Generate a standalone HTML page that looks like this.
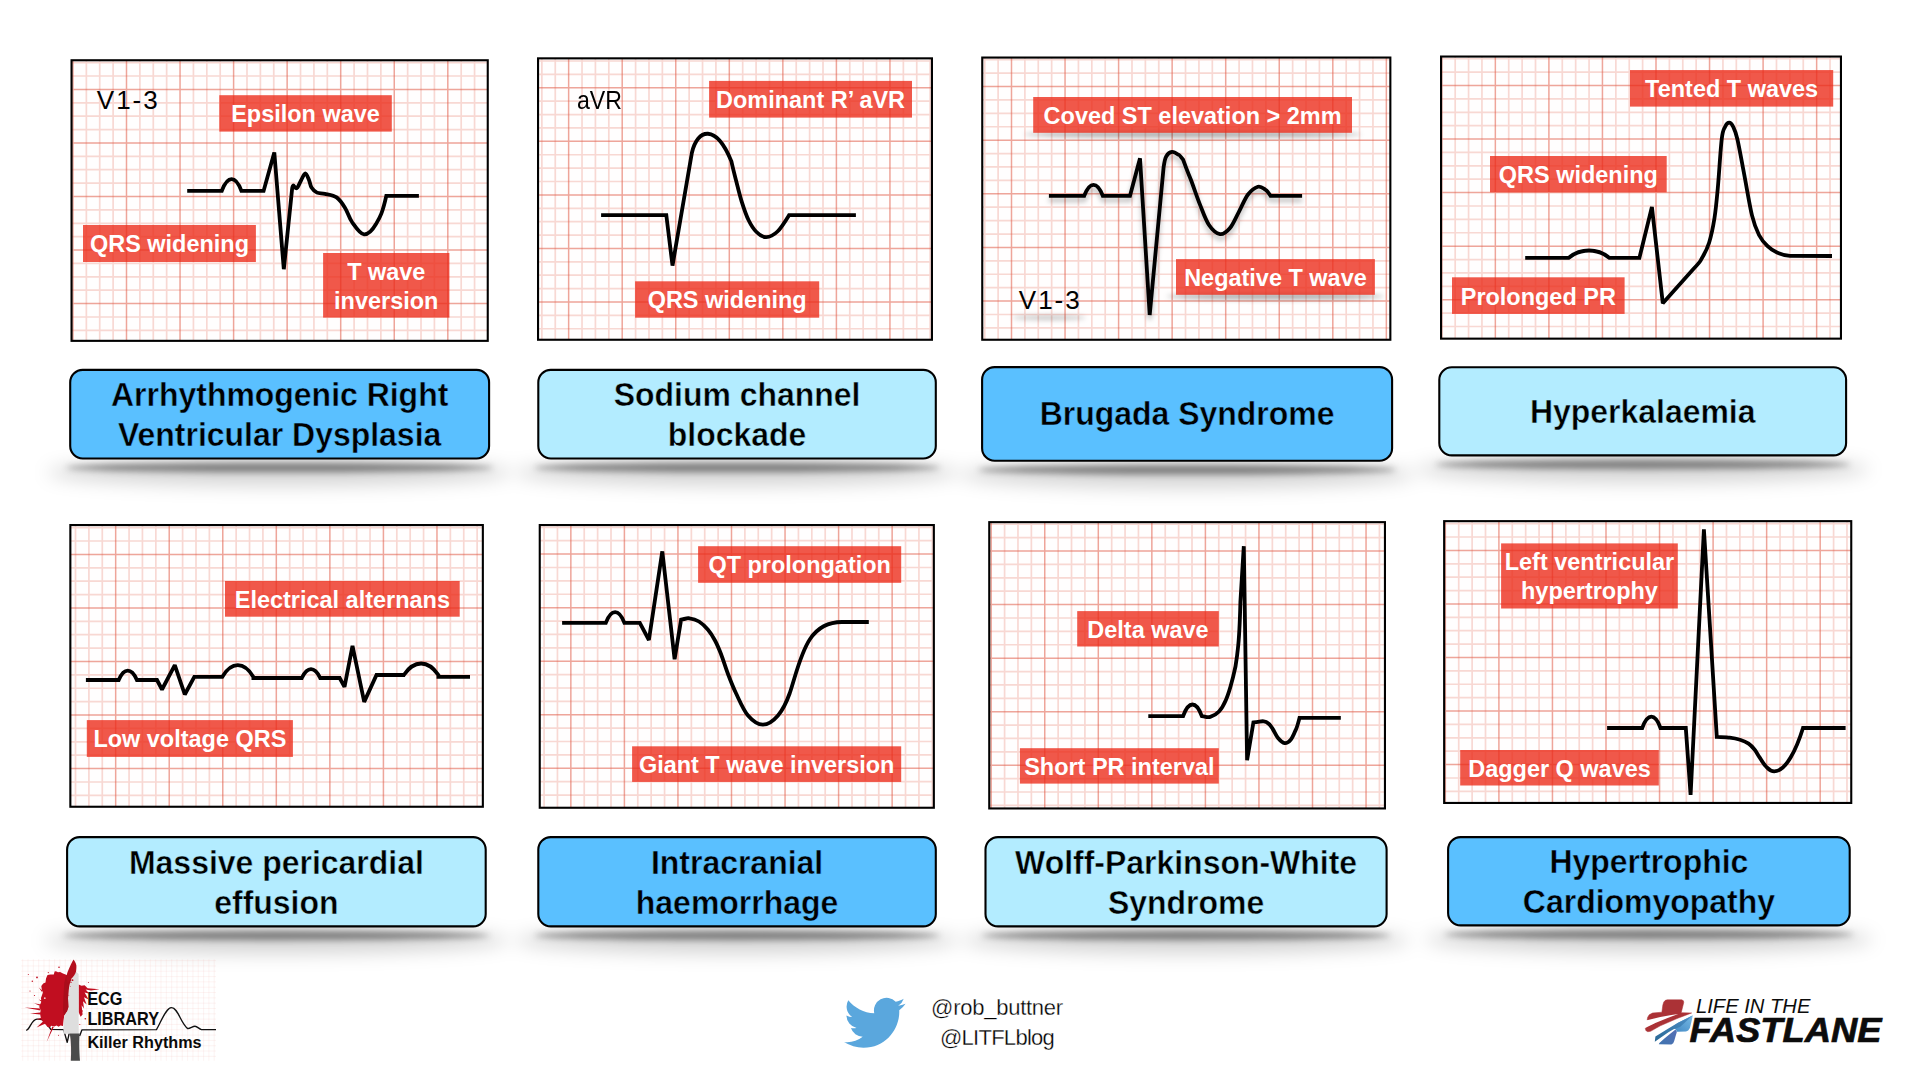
<!DOCTYPE html>
<html><head><meta charset="utf-8"><title>ECG Killer Rhythms</title>
<style>
html,body{margin:0;padding:0;}
body{width:1915px;height:1076px;position:relative;overflow:hidden;background:#fff;font-family:"Liberation Sans",sans-serif;}
#art{position:absolute;left:0;top:0;}
.ld{position:absolute;font-size:26px;line-height:26px;color:#000;white-space:nowrap;transform-origin:0 0;}
.ft{position:absolute;color:#000;font-size:21.3px;line-height:29.3px;text-align:center;white-space:nowrap;}
</style></head><body>

<svg id="art" width="1915" height="1076" viewBox="0 0 1915 1076">
<defs>
<clipPath id="c0"><rect x="71.5" y="60.2" width="416.3" height="280.7"/></clipPath>
<clipPath id="c1"><rect x="538" y="58.3" width="394" height="281.5"/></clipPath>
<clipPath id="c2"><rect x="982.2" y="57.5" width="408.2" height="282.3"/></clipPath>
<clipPath id="c3"><rect x="1441" y="56.5" width="400" height="282.2"/></clipPath>
<clipPath id="c4"><rect x="70.3" y="525" width="412.6" height="281.8"/></clipPath>
<clipPath id="c5"><rect x="539.7" y="525" width="394.2" height="282.8"/></clipPath>
<clipPath id="c6"><rect x="989.2" y="522.1" width="395.8" height="286.4"/></clipPath>
<clipPath id="c7"><rect x="1444.1" y="521.1" width="407.2" height="281.9"/></clipPath>
</defs>
<g clip-path="url(#c0)">
<rect x="70.5" y="59.2" width="418.3" height="282.7" fill="#fffefe"/>
<path d="M86.34,59.2V341.9M99.72,59.2V341.9M113.11,59.2V341.9M139.89,59.2V341.9M153.28,59.2V341.9M166.66,59.2V341.9M193.44,59.2V341.9M206.82,59.2V341.9M220.21,59.2V341.9M246.99,59.2V341.9M260.38,59.2V341.9M273.76,59.2V341.9M300.54,59.2V341.9M313.92,59.2V341.9M327.31,59.2V341.9M354.09,59.2V341.9M367.48,59.2V341.9M380.86,59.2V341.9M407.64,59.2V341.9M421.02,59.2V341.9M434.41,59.2V341.9M461.19,59.2V341.9M474.57,59.2V341.9M487.96,59.2V341.9M70.5,62.63H488.8M70.5,76.01H488.8M70.5,102.79H488.8M70.5,116.18H488.8M70.5,129.56H488.8M70.5,156.34H488.8M70.5,169.72H488.8M70.5,183.11H488.8M70.5,209.89H488.8M70.5,223.28H488.8M70.5,236.66H488.8M70.5,263.44H488.8M70.5,276.82H488.8M70.5,290.21H488.8M70.5,316.99H488.8M70.5,330.38H488.8" stroke="rgba(228,105,85,0.25)" stroke-width="1.7" fill="none"/>
<path d="M72.95,59.2V341.9M126.5,59.2V341.9M180.05,59.2V341.9M233.6,59.2V341.9M287.15,59.2V341.9M340.7,59.2V341.9M394.25,59.2V341.9M447.8,59.2V341.9M70.5,89.4H488.8M70.5,142.95H488.8M70.5,196.5H488.8M70.5,250.05H488.8M70.5,303.6H488.8" stroke="rgba(225,95,75,0.56)" stroke-width="1.5" fill="none"/>
</g>
<rect x="71.55" y="60.25" width="416.2" height="280.6" fill="none" stroke="#000" stroke-width="2.1"/>
<g clip-path="url(#c1)">
<rect x="537" y="57.3" width="396" height="283.5" fill="#fffefe"/>
<path d="M541.88,57.3V340.8M555.26,57.3V340.8M582.04,57.3V340.8M595.43,57.3V340.8M608.81,57.3V340.8M635.59,57.3V340.8M648.98,57.3V340.8M662.36,57.3V340.8M689.14,57.3V340.8M702.53,57.3V340.8M715.91,57.3V340.8M742.69,57.3V340.8M756.08,57.3V340.8M769.46,57.3V340.8M796.24,57.3V340.8M809.62,57.3V340.8M823.01,57.3V340.8M849.79,57.3V340.8M863.18,57.3V340.8M876.56,57.3V340.8M903.34,57.3V340.8M916.73,57.3V340.8M930.11,57.3V340.8M537,61.02H933M537,74.41H933M537,101.19H933M537,114.57H933M537,127.96H933M537,154.74H933M537,168.12H933M537,181.51H933M537,208.29H933M537,221.68H933M537,235.06H933M537,261.84H933M537,275.22H933M537,288.61H933M537,315.39H933M537,328.77H933" stroke="rgba(228,105,85,0.25)" stroke-width="1.7" fill="none"/>
<path d="M568.65,57.3V340.8M622.2,57.3V340.8M675.75,57.3V340.8M729.3,57.3V340.8M782.85,57.3V340.8M836.4,57.3V340.8M889.95,57.3V340.8M537,87.8H933M537,141.35H933M537,194.9H933M537,248.45H933M537,302H933" stroke="rgba(225,95,75,0.56)" stroke-width="1.5" fill="none"/>
</g>
<rect x="538.05" y="58.35" width="393.9" height="281.4" fill="none" stroke="#000" stroke-width="2.1"/>
<g clip-path="url(#c2)">
<rect x="981.2" y="56.5" width="410.2" height="284.3" fill="#fffefe"/>
<path d="M984.72,56.5V340.8M998.11,56.5V340.8M1024.89,56.5V340.8M1038.27,56.5V340.8M1051.66,56.5V340.8M1078.44,56.5V340.8M1091.82,56.5V340.8M1105.21,56.5V340.8M1131.99,56.5V340.8M1145.38,56.5V340.8M1158.76,56.5V340.8M1185.54,56.5V340.8M1198.92,56.5V340.8M1212.31,56.5V340.8M1239.09,56.5V340.8M1252.47,56.5V340.8M1265.86,56.5V340.8M1292.64,56.5V340.8M1306.02,56.5V340.8M1319.41,56.5V340.8M1346.19,56.5V340.8M1359.57,56.5V340.8M1372.96,56.5V340.8M981.2,59.67H1391.4M981.2,73.09H1391.4M981.2,99.91H1391.4M981.2,113.33H1391.4M981.2,126.74H1391.4M981.2,153.56H1391.4M981.2,166.97H1391.4M981.2,180.39H1391.4M981.2,207.21H1391.4M981.2,220.62H1391.4M981.2,234.04H1391.4M981.2,260.86H1391.4M981.2,274.27H1391.4M981.2,287.69H1391.4M981.2,314.51H1391.4M981.2,327.92H1391.4" stroke="rgba(228,105,85,0.25)" stroke-width="1.7" fill="none"/>
<path d="M1011.5,56.5V340.8M1065.05,56.5V340.8M1118.6,56.5V340.8M1172.15,56.5V340.8M1225.7,56.5V340.8M1279.25,56.5V340.8M1332.8,56.5V340.8M1386.35,56.5V340.8M981.2,86.5H1391.4M981.2,140.15H1391.4M981.2,193.8H1391.4M981.2,247.45H1391.4M981.2,301.1H1391.4" stroke="rgba(225,95,75,0.56)" stroke-width="1.5" fill="none"/>
</g>
<rect x="982.25" y="57.55" width="408.1" height="282.2" fill="none" stroke="#000" stroke-width="2.1"/>
<g clip-path="url(#c3)">
<rect x="1440" y="55.5" width="402" height="284.2" fill="#fffefe"/>
<path d="M1455.19,55.5V339.7M1468.58,55.5V339.7M1481.96,55.5V339.7M1508.74,55.5V339.7M1522.12,55.5V339.7M1535.51,55.5V339.7M1562.29,55.5V339.7M1575.68,55.5V339.7M1589.06,55.5V339.7M1615.84,55.5V339.7M1629.23,55.5V339.7M1642.61,55.5V339.7M1669.39,55.5V339.7M1682.78,55.5V339.7M1696.16,55.5V339.7M1722.94,55.5V339.7M1736.33,55.5V339.7M1749.71,55.5V339.7M1776.49,55.5V339.7M1789.88,55.5V339.7M1803.26,55.5V339.7M1830.04,55.5V339.7M1440,58.73H1842M1440,72.11H1842M1440,98.89H1842M1440,112.28H1842M1440,125.66H1842M1440,152.44H1842M1440,165.82H1842M1440,179.21H1842M1440,205.99H1842M1440,219.38H1842M1440,232.76H1842M1440,259.54H1842M1440,272.92H1842M1440,286.31H1842M1440,313.09H1842M1440,326.48H1842" stroke="rgba(228,105,85,0.25)" stroke-width="1.7" fill="none"/>
<path d="M1441.8,55.5V339.7M1495.35,55.5V339.7M1548.9,55.5V339.7M1602.45,55.5V339.7M1656,55.5V339.7M1709.55,55.5V339.7M1763.1,55.5V339.7M1816.65,55.5V339.7M1440,85.5H1842M1440,139.05H1842M1440,192.6H1842M1440,246.15H1842M1440,299.7H1842" stroke="rgba(225,95,75,0.56)" stroke-width="1.5" fill="none"/>
</g>
<rect x="1441.05" y="56.55" width="399.9" height="282.1" fill="none" stroke="#000" stroke-width="2.1"/>
<g clip-path="url(#c4)">
<rect x="69.3" y="524" width="414.6" height="283.8" fill="#fffefe"/>
<path d="M75.51,524V807.8M88.9,524V807.8M102.28,524V807.8M129.06,524V807.8M142.44,524V807.8M155.83,524V807.8M182.61,524V807.8M196,524V807.8M209.38,524V807.8M236.16,524V807.8M249.55,524V807.8M262.93,524V807.8M289.71,524V807.8M303.09,524V807.8M316.48,524V807.8M343.26,524V807.8M356.64,524V807.8M370.03,524V807.8M396.81,524V807.8M410.19,524V807.8M423.58,524V807.8M450.36,524V807.8M463.75,524V807.8M477.13,524V807.8M69.3,527.62H483.9M69.3,541.01H483.9M69.3,567.79H483.9M69.3,581.17H483.9M69.3,594.56H483.9M69.3,621.34H483.9M69.3,634.72H483.9M69.3,648.11H483.9M69.3,674.89H483.9M69.3,688.27H483.9M69.3,701.66H483.9M69.3,728.44H483.9M69.3,741.82H483.9M69.3,755.21H483.9M69.3,781.99H483.9M69.3,795.38H483.9" stroke="rgba(228,105,85,0.25)" stroke-width="1.7" fill="none"/>
<path d="M115.67,524V807.8M169.22,524V807.8M222.77,524V807.8M276.32,524V807.8M329.87,524V807.8M383.42,524V807.8M436.97,524V807.8M69.3,554.4H483.9M69.3,607.95H483.9M69.3,661.5H483.9M69.3,715.05H483.9M69.3,768.6H483.9" stroke="rgba(225,95,75,0.56)" stroke-width="1.5" fill="none"/>
</g>
<rect x="70.35" y="525.05" width="412.5" height="281.7" fill="none" stroke="#000" stroke-width="2.1"/>
<g clip-path="url(#c5)">
<rect x="538.7" y="524" width="396.2" height="284.8" fill="#fffefe"/>
<path d="M544.08,524V808.8M557.46,524V808.8M584.24,524V808.8M597.62,524V808.8M611.01,524V808.8M637.79,524V808.8M651.17,524V808.8M664.56,524V808.8M691.34,524V808.8M704.72,524V808.8M718.11,524V808.8M744.89,524V808.8M758.27,524V808.8M771.66,524V808.8M798.44,524V808.8M811.82,524V808.8M825.21,524V808.8M851.99,524V808.8M865.38,524V808.8M878.76,524V808.8M905.54,524V808.8M918.92,524V808.8M932.31,524V808.8M538.7,527.33H934.9M538.7,540.71H934.9M538.7,567.49H934.9M538.7,580.88H934.9M538.7,594.26H934.9M538.7,621.04H934.9M538.7,634.42H934.9M538.7,647.81H934.9M538.7,674.59H934.9M538.7,687.98H934.9M538.7,701.36H934.9M538.7,728.14H934.9M538.7,741.52H934.9M538.7,754.91H934.9M538.7,781.69H934.9M538.7,795.08H934.9M538.7,808.46H934.9" stroke="rgba(228,105,85,0.25)" stroke-width="1.7" fill="none"/>
<path d="M570.85,524V808.8M624.4,524V808.8M677.95,524V808.8M731.5,524V808.8M785.05,524V808.8M838.6,524V808.8M892.15,524V808.8M538.7,554.1H934.9M538.7,607.65H934.9M538.7,661.2H934.9M538.7,714.75H934.9M538.7,768.3H934.9" stroke="rgba(225,95,75,0.56)" stroke-width="1.5" fill="none"/>
</g>
<rect x="539.75" y="525.05" width="394.1" height="282.7" fill="none" stroke="#000" stroke-width="2.1"/>
<g clip-path="url(#c6)">
<rect x="988.2" y="521.1" width="397.8" height="288.4" fill="#fffefe"/>
<path d="M1004.59,521.1V809.5M1017.97,521.1V809.5M1031.36,521.1V809.5M1058.14,521.1V809.5M1071.52,521.1V809.5M1084.91,521.1V809.5M1111.69,521.1V809.5M1125.07,521.1V809.5M1138.46,521.1V809.5M1165.24,521.1V809.5M1178.62,521.1V809.5M1192.01,521.1V809.5M1218.79,521.1V809.5M1232.17,521.1V809.5M1245.56,521.1V809.5M1272.34,521.1V809.5M1285.72,521.1V809.5M1299.11,521.1V809.5M1325.89,521.1V809.5M1339.27,521.1V809.5M1352.66,521.1V809.5M1379.44,521.1V809.5M988.2,524.27H1386M988.2,537.66H1386M988.2,564.44H1386M988.2,577.82H1386M988.2,591.21H1386M988.2,617.99H1386M988.2,631.38H1386M988.2,644.76H1386M988.2,671.54H1386M988.2,684.92H1386M988.2,698.31H1386M988.2,725.09H1386M988.2,738.47H1386M988.2,751.86H1386M988.2,778.64H1386M988.2,792.02H1386M988.2,805.41H1386" stroke="rgba(228,105,85,0.25)" stroke-width="1.7" fill="none"/>
<path d="M991.2,521.1V809.5M1044.75,521.1V809.5M1098.3,521.1V809.5M1151.85,521.1V809.5M1205.4,521.1V809.5M1258.95,521.1V809.5M1312.5,521.1V809.5M1366.05,521.1V809.5M988.2,551.05H1386M988.2,604.6H1386M988.2,658.15H1386M988.2,711.7H1386M988.2,765.25H1386" stroke="rgba(225,95,75,0.56)" stroke-width="1.5" fill="none"/>
</g>
<rect x="989.25" y="522.15" width="395.7" height="286.3" fill="none" stroke="#000" stroke-width="2.1"/>
<g clip-path="url(#c7)">
<rect x="1443.1" y="520.1" width="409.2" height="283.9" fill="#fffefe"/>
<path d="M1458.74,520.1V804M1472.12,520.1V804M1485.51,520.1V804M1512.29,520.1V804M1525.67,520.1V804M1539.06,520.1V804M1565.84,520.1V804M1579.22,520.1V804M1592.61,520.1V804M1619.39,520.1V804M1632.77,520.1V804M1646.16,520.1V804M1672.94,520.1V804M1686.33,520.1V804M1699.71,520.1V804M1726.49,520.1V804M1739.88,520.1V804M1753.26,520.1V804M1780.04,520.1V804M1793.42,520.1V804M1806.81,520.1V804M1833.59,520.1V804M1846.97,520.1V804M1443.1,523.62H1852.3M1443.1,537.01H1852.3M1443.1,563.79H1852.3M1443.1,577.17H1852.3M1443.1,590.56H1852.3M1443.1,617.34H1852.3M1443.1,630.72H1852.3M1443.1,644.11H1852.3M1443.1,670.89H1852.3M1443.1,684.27H1852.3M1443.1,697.66H1852.3M1443.1,724.44H1852.3M1443.1,737.82H1852.3M1443.1,751.21H1852.3M1443.1,777.99H1852.3M1443.1,791.38H1852.3" stroke="rgba(228,105,85,0.25)" stroke-width="1.7" fill="none"/>
<path d="M1445.35,520.1V804M1498.9,520.1V804M1552.45,520.1V804M1606,520.1V804M1659.55,520.1V804M1713.1,520.1V804M1766.65,520.1V804M1820.2,520.1V804M1443.1,550.4H1852.3M1443.1,603.95H1852.3M1443.1,657.5H1852.3M1443.1,711.05H1852.3M1443.1,764.6H1852.3" stroke="rgba(225,95,75,0.56)" stroke-width="1.5" fill="none"/>
</g>
<rect x="1444.15" y="521.15" width="407.1" height="281.8" fill="none" stroke="#000" stroke-width="2.1"/>
<defs><filter id="b1" filterUnits="userSpaceOnUse" x="0" y="0" width="1915" height="1076"><feGaussianBlur stdDeviation="3.3"/></filter><filter id="b2" filterUnits="userSpaceOnUse" x="0" y="0" width="1915" height="1076"><feGaussianBlur stdDeviation="9"/></filter></defs>
<g filter="url(#b2)" fill="#000" fill-opacity="0.17"><ellipse cx="279.65" cy="472.5" rx="232.45" ry="13"/><ellipse cx="737.05" cy="472.5" rx="221.75" ry="13"/><ellipse cx="1187.1" cy="474.7" rx="228" ry="13"/><ellipse cx="1642.7" cy="469.4" rx="226.4" ry="13"/><ellipse cx="276.4" cy="940.4" rx="232.3" ry="13"/><ellipse cx="737.05" cy="940.4" rx="221.75" ry="13"/><ellipse cx="1186.05" cy="940.4" rx="223.55" ry="13"/><ellipse cx="1648.9" cy="939.4" rx="223.8" ry="13"/></g>
<defs><filter id="b3" filterUnits="userSpaceOnUse" x="900" y="0" width="600" height="400"><feGaussianBlur stdDeviation="2.6"/></filter></defs>
<g filter="url(#b1)" fill="#000" fill-opacity="0.42"><ellipse cx="279.65" cy="467.5" rx="213.45" ry="4.8"/><ellipse cx="737.05" cy="467.5" rx="202.75" ry="4.8"/><ellipse cx="1187.1" cy="469.7" rx="209" ry="4.8"/><ellipse cx="1642.7" cy="464.4" rx="207.4" ry="4.8"/><ellipse cx="276.4" cy="935.4" rx="213.3" ry="4.8"/><ellipse cx="737.05" cy="935.4" rx="202.75" ry="4.8"/><ellipse cx="1186.05" cy="935.4" rx="204.55" ry="4.8"/><ellipse cx="1648.9" cy="934.4" rx="204.8" ry="4.8"/></g>
<g filter="url(#b3)" fill="#000" fill-opacity="0.33"><ellipse cx="1192.6" cy="134.4" rx="168.4" ry="3.2"/><ellipse cx="1275.45" cy="296.4" rx="108.45" ry="3.2"/><ellipse cx="1049" cy="317.6" rx="37" ry="2.4" fill-opacity="0.22"/></g>
<path d="M187.2,190.9 L221.8,190.9 C227.68,175.3 235.52,175.3 241.4,190.9 L263.6,190.9 L274.3,152.4 L283.8,269.2 L292.1,189 C292.25,187.4 292.78,185.63 293.3,185.4 C293.82,185.17 294.52,187.23 295.2,187.6 C295.88,187.97 296.43,188.78 297.4,187.6 C298.37,186.42 299.68,182.88 301,180.5 C302.32,178.12 303.97,173.38 305.3,173.3 C306.63,173.22 307.97,177.63 309,180 C310.03,182.37 310.17,185.4 311.5,187.5 C312.83,189.6 314.77,191.55 317,192.6 C319.23,193.65 321.63,193 324.9,193.8 C328.17,194.6 333.23,195.05 336.6,197.4 C339.97,199.75 342.53,203.8 345.1,207.9 C347.67,212 348.85,217.6 352,222 C355.15,226.4 360,233.97 364,234.3 C368,234.63 372.28,230.4 376,224 C379.72,217.6 382.3,213.9 386.3,195.9 L418.9,195.9" fill="none" stroke="#000" stroke-width="3.8" stroke-linejoin="miter" stroke-miterlimit="1.8" stroke-linecap="butt"/>
<path d="M601.1,215.1 L666.3,215.1 L672.5,265.6 L691.9,152.7 C697.5,128.5 716,123.5 731.4,161.4 C732.9,168.4 734.48,174.3 736.2,181 C737.92,187.7 739.65,195.1 741.7,201.6 C743.75,208.1 746.03,214.93 748.5,220 C750.97,225.07 753.55,229.13 756.5,232 C759.45,234.87 762.7,237.28 766.2,237.2 C769.7,237.12 773.68,235.18 777.5,231.5 C781.32,227.82 785.1,221.6 789.1,215.1 L855.9,215.1" fill="none" stroke="#000" stroke-width="3.8" stroke-linejoin="miter" stroke-miterlimit="1.8" stroke-linecap="butt"/>
<path style="filter:drop-shadow(0 4.5px 2.5px rgba(0,0,0,0.28))" d="M1048.9,195.8 L1084.2,195.8 C1089.78,181.13 1097.22,181.13 1102.8,195.8 L1130,195.8 L1140,158.3 L1149.7,315 L1163.6,167.2 C1165.1,157.2 1165.1,158.55 1166.5,156 C1167.9,153.45 1170.08,152.15 1172,151.9 C1173.92,151.65 1176.15,153.2 1178,154.5 C1179.85,155.8 1178.1,152.7 1183.1,159.7 C1188.1,173.7 1188.2,172.55 1191,180 C1193.8,187.45 1196.9,196.9 1199.9,204.4 C1202.9,211.9 1205.65,220.05 1209,225 C1212.35,229.95 1216.5,233.6 1220,234.1 C1223.5,234.6 1226.85,231.72 1230,228 C1233.15,224.28 1235.9,217.38 1238.9,211.8 C1241.9,206.22 1244.83,198.68 1248,194.5 C1251.17,190.32 1255.07,187.53 1257.9,186.7 C1260.73,185.87 1262.9,187.98 1265,189.5 C1267.1,191.02 1266.5,189.8 1270.5,195.8 L1302.1,195.8" fill="none" stroke="#000" stroke-width="3.8" stroke-linejoin="miter" stroke-miterlimit="1.8" stroke-linecap="butt"/>
<path d="M1525.2,257.9 L1568.5,257.9 C1580.8,248.03 1597.2,248.03 1609.5,257.9 L1639.4,257.9 L1651.9,207 L1662.8,303.2 L1693.4,269.1 C1702.4,259.1 1699.38,262.4 1702,258 C1704.62,253.6 1707.02,249.37 1709.1,242.7 C1711.18,236.03 1713.05,227.1 1714.5,218 C1715.95,208.9 1716.6,201.22 1717.8,188.1 C1719,174.98 1720.5,149.48 1721.7,139.3 C1722.9,129.12 1723.75,129.77 1725,127 C1726.25,124.23 1727.82,122.7 1729.2,122.7 C1730.58,122.7 1731.93,124.23 1733.3,127 C1734.67,129.77 1735.58,131.4 1737.4,139.3 C1739.22,147.2 1741.77,161.72 1744.2,174.4 C1746.63,187.08 1749.53,205.3 1752,215.4 C1754.47,225.5 1756.4,229.87 1759,235 C1761.6,240.13 1764.6,243.27 1767.6,246.2 C1770.6,249.13 1773.27,250.98 1777,252.6 C1780.73,254.22 1785,255.7 1790,255.9 L1832,256" fill="none" stroke="#000" stroke-width="3.8" stroke-linejoin="miter" stroke-miterlimit="1.8" stroke-linecap="butt"/>
<path d="M85.9,680 L118.7,680 C124.16,667.6 131.44,667.6 136.9,680 L157,680 L162,689.5 L174.8,665.2 L184.8,694.5 L194.3,676.9 L222.2,676.9 C231.56,661.3 244.04,661.3 253.4,676.9 L253.4,678 L301.8,678 C307.32,666.13 314.68,666.13 320.2,678 L339.7,678 L344.5,686.8 L352.5,645.9 L364.2,701.9 L376.5,675 L403.8,675 C414.18,659.67 428.02,659.67 438.4,675 L438.4,676.9 L470,676.9" fill="none" stroke="#000" stroke-width="3.8" stroke-linejoin="miter" stroke-miterlimit="1.8" stroke-linecap="butt"/>
<path d="M562.1,622.9 L605.8,622.9 C611.38,608.63 618.82,608.63 624.4,622.9 L639.8,622.9 L648.9,640 L662.3,551.4 L674.6,659.2 L681.1,619.6 C689.1,618.1 686.42,617.98 689.4,618.3 C692.38,618.62 695.9,619.58 699,621.5 C702.1,623.42 705.33,626.63 708,629.8 C710.67,632.97 712.83,636.47 715,640.5 C717.17,644.53 718.83,648.42 721,654 C723.17,659.58 725.52,667.5 728,674 C730.48,680.5 732.57,686.08 735.9,693 C739.23,699.92 743.5,710.23 748,715.5 C752.5,720.77 757.9,724.6 762.9,724.6 C767.9,724.6 773.52,720.77 778,715.5 C782.48,710.23 786.6,702 789.8,693 C801,659 806,622 842,622 L868.8,622" fill="none" stroke="#000" stroke-width="3.8" stroke-linejoin="miter" stroke-miterlimit="1.8" stroke-linecap="butt"/>
<path d="M1148.3,716.1 L1183.1,716.1 C1188.71,700.63 1196.19,700.63 1201.8,716.1 C1207.8,717.1 1207.43,717.57 1210.3,716.8 C1213.17,716.03 1216.4,714.3 1219,711.5 C1221.6,708.7 1223.73,705.08 1225.9,700 C1228.07,694.92 1230.13,688.42 1232,681 C1233.87,673.58 1235.7,668.68 1237.1,655.5 C1238.5,642.32 1239.4,641.9 1240.4,601.9 L1243.8,546.2 L1247.1,760.3 L1253.4,722.4 C1261.4,721.4 1261.2,721.03 1263.8,721.3 C1266.4,721.57 1267.5,722.7 1269,724 C1270.5,725.3 1271.3,726.77 1272.8,729.1 C1274.3,731.43 1276.03,735.67 1278,738 C1279.97,740.33 1282.52,742.77 1284.6,743.1 C1286.68,743.43 1288.75,741.97 1290.5,740 C1292.25,738.03 1293.6,734.98 1295.1,731.3 C1296.6,727.62 1296.5,729.9 1299.5,717.9 L1340.8,717.9" fill="none" stroke="#000" stroke-width="3.8" stroke-linejoin="miter" stroke-miterlimit="1.8" stroke-linecap="butt"/>
<path d="M1607.1,728 L1642.2,728 C1647.69,712.93 1655.01,712.93 1660.5,728 L1685.8,728 L1690.6,794.8 L1703.9,529.4 L1716.8,736.9 C1726.8,737.2 1725.83,737.22 1729.7,737.7 C1733.57,738.18 1736.85,738.82 1740,739.8 C1743.15,740.78 1746.18,741.98 1748.6,743.6 C1751.02,745.22 1752.7,747.25 1754.5,749.5 C1756.3,751.75 1757.48,754.27 1759.4,757.1 C1761.32,759.93 1763.53,764.12 1766,766.5 C1768.47,768.88 1770.2,771.4 1774.2,771.4 C1786,771.4 1796.5,749 1803,728 L1845.6,728" fill="none" stroke="#000" stroke-width="3.8" stroke-linejoin="miter" stroke-miterlimit="1.8" stroke-linecap="butt"/>
<g font-family="Liberation Sans, sans-serif" font-weight="bold" font-size="24.2" fill="#fff" text-anchor="middle">
<rect x="219.3" y="95.2" width="172.5" height="36.4" fill="rgb(236,41,23)" fill-opacity="0.78"/>
<text transform="translate(305.55,122.3) scale(0.97,1)">Epsilon wave</text>
<rect x="83" y="225" width="172.9" height="37" fill="rgb(236,41,23)" fill-opacity="0.78"/>
<text transform="translate(169.45,252.4) scale(0.97,1)">QRS widening</text>
<rect x="323.1" y="253" width="126.3" height="64.6" fill="rgb(236,41,23)" fill-opacity="0.78"/>
<text transform="translate(386.25,279.7) scale(0.97,1)">T wave</text>
<text transform="translate(386.25,308.7) scale(0.97,1)">inversion</text>
<rect x="709.1" y="80.9" width="202.9" height="36.7" fill="rgb(236,41,23)" fill-opacity="0.78"/>
<text transform="translate(810.55,108.15) scale(0.97,1)">Dominant R’ aVR</text>
<rect x="635.1" y="281.3" width="184.1" height="36.4" fill="rgb(236,41,23)" fill-opacity="0.78"/>
<text transform="translate(727.15,308.4) scale(0.97,1)">QRS widening</text>
<rect x="1033.2" y="97" width="318.8" height="35.8" fill="rgb(236,41,23)" fill-opacity="0.78"/>
<text transform="translate(1192.6,123.8) scale(0.97,1)">Coved ST elevation &gt; 2mm</text>
<rect x="1176" y="259.1" width="198.9" height="35.7" fill="rgb(236,41,23)" fill-opacity="0.78"/>
<text transform="translate(1275.45,285.85) scale(0.97,1)">Negative T wave</text>
<rect x="1630" y="70.05" width="203.2" height="36.55" fill="rgb(236,41,23)" fill-opacity="0.78"/>
<text transform="translate(1731.6,97.22) scale(0.97,1)">Tented T waves</text>
<rect x="1490" y="156" width="176.7" height="36.3" fill="rgb(236,41,23)" fill-opacity="0.78"/>
<text transform="translate(1578.35,183.05) scale(0.97,1)">QRS widening</text>
<rect x="1452" y="277.3" width="172.6" height="36.6" fill="rgb(236,41,23)" fill-opacity="0.78"/>
<text transform="translate(1538.3,304.5) scale(0.97,1)">Prolonged PR</text>
<rect x="225" y="581" width="234.7" height="35.7" fill="rgb(236,41,23)" fill-opacity="0.78"/>
<text transform="translate(342.35,607.75) scale(0.97,1)">Electrical alternans</text>
<rect x="86.8" y="720.1" width="206.1" height="36.8" fill="rgb(236,41,23)" fill-opacity="0.78"/>
<text transform="translate(189.85,747.4) scale(0.97,1)">Low voltage QRS</text>
<rect x="698.1" y="546.2" width="203.1" height="36.6" fill="rgb(236,41,23)" fill-opacity="0.78"/>
<text transform="translate(799.65,573.4) scale(0.97,1)">QT prolongation</text>
<rect x="632.1" y="746.3" width="269.1" height="35.6" fill="rgb(236,41,23)" fill-opacity="0.78"/>
<text transform="translate(766.65,773) scale(0.97,1)">Giant T wave inversion</text>
<rect x="1077.2" y="611.1" width="141.6" height="35.4" fill="rgb(236,41,23)" fill-opacity="0.78"/>
<text transform="translate(1148,637.7) scale(0.97,1)">Delta wave</text>
<rect x="1019.9" y="748.2" width="198.9" height="35.4" fill="rgb(236,41,23)" fill-opacity="0.78"/>
<text transform="translate(1119.35,774.8) scale(0.97,1)">Short PR interval</text>
<rect x="1501.1" y="543.4" width="176.7" height="65.1" fill="rgb(236,41,23)" fill-opacity="0.78"/>
<text transform="translate(1589.45,570.35) scale(0.97,1)">Left ventricular</text>
<text transform="translate(1589.45,599.35) scale(0.97,1)">hypertrophy</text>
<rect x="1460.2" y="750" width="198.6" height="35.5" fill="rgb(236,41,23)" fill-opacity="0.78"/>
<text transform="translate(1559.5,776.65) scale(0.97,1)">Dagger Q waves</text>
</g>
<g font-family="Liberation Sans, sans-serif" font-weight="bold" font-size="33.3" text-anchor="middle">
<rect x="70.2" y="369.9" width="418.9" height="88.6" rx="12.5" ry="12.5" fill="#5ac0ff" stroke="#000" stroke-width="2.1"/>
<text transform="translate(279.65,406.2) scale(0.96,1)" fill="#000" stroke="#5ac0ff" stroke-width="0.45">Arrhythmogenic Right</text>
<text transform="translate(279.65,446.2) scale(0.96,1)" fill="#000" stroke="#5ac0ff" stroke-width="0.45">Ventricular Dysplasia</text>
<rect x="538.3" y="369.9" width="397.5" height="88.6" rx="12.5" ry="12.5" fill="#b3ecff" stroke="#000" stroke-width="2.1"/>
<text transform="translate(737.05,406.2) scale(0.96,1)" fill="#000" stroke="#b3ecff" stroke-width="0.45">Sodium channel</text>
<text transform="translate(737.05,446.2) scale(0.96,1)" fill="#000" stroke="#b3ecff" stroke-width="0.45">blockade</text>
<rect x="982.1" y="367.1" width="410" height="93.6" rx="12.5" ry="12.5" fill="#5ac0ff" stroke="#000" stroke-width="2.1"/>
<text transform="translate(1187.1,425.2) scale(0.96,1)" fill="#000" stroke="#5ac0ff" stroke-width="0.45">Brugada Syndrome</text>
<rect x="1439.3" y="367.3" width="406.8" height="88.1" rx="12.5" ry="12.5" fill="#b3ecff" stroke="#000" stroke-width="2.1"/>
<text transform="translate(1642.7,422.8) scale(0.96,1)" fill="#000" stroke="#b3ecff" stroke-width="0.45">Hyperkalaemia</text>
<rect x="67.1" y="837.1" width="418.6" height="89.3" rx="12.5" ry="12.5" fill="#b3ecff" stroke="#000" stroke-width="2.1"/>
<text transform="translate(276.4,874) scale(0.96,1)" fill="#000" stroke="#b3ecff" stroke-width="0.45">Massive pericardial</text>
<text transform="translate(276.4,914) scale(0.96,1)" fill="#000" stroke="#b3ecff" stroke-width="0.45">effusion</text>
<rect x="538.3" y="837.1" width="397.5" height="89.3" rx="12.5" ry="12.5" fill="#5ac0ff" stroke="#000" stroke-width="2.1"/>
<text transform="translate(737.05,874) scale(0.96,1)" fill="#000" stroke="#5ac0ff" stroke-width="0.45">Intracranial</text>
<text transform="translate(737.05,914) scale(0.96,1)" fill="#000" stroke="#5ac0ff" stroke-width="0.45">haemorrhage</text>
<rect x="985.5" y="837.1" width="401.1" height="89.3" rx="12.5" ry="12.5" fill="#b3ecff" stroke="#000" stroke-width="2.1"/>
<text transform="translate(1186.05,874) scale(0.96,1)" fill="#000" stroke="#b3ecff" stroke-width="0.45">Wolff-Parkinson-White</text>
<text transform="translate(1186.05,914) scale(0.96,1)" fill="#000" stroke="#b3ecff" stroke-width="0.45">Syndrome</text>
<rect x="1448.1" y="837.1" width="401.6" height="88.3" rx="12.5" ry="12.5" fill="#5ac0ff" stroke="#000" stroke-width="2.1"/>
<text transform="translate(1648.9,872.8) scale(0.96,1)" fill="#000" stroke="#5ac0ff" stroke-width="0.45">Hypertrophic</text>
<text transform="translate(1648.9,912.8) scale(0.96,1)" fill="#000" stroke="#5ac0ff" stroke-width="0.45">Cardiomyopathy</text>
</g>
</svg>
<div class="ld" style="left:96.8px;top:86.79px;letter-spacing:2px;">V1-3</div>
<div class="ld" style="left:576.6px;top:86.69px;transform:scaleX(0.89);">aVR</div>
<div class="ld" style="left:1018.8px;top:286.69px;letter-spacing:2px;">V1-3</div>
<svg width="1915" height="126" viewBox="0 950 1915 126" style="position:absolute;left:0;top:950px">
<path d="M22.7,959.1V1060.8M28.02,959.1V1060.8M33.34,959.1V1060.8M38.66,959.1V1060.8M43.98,959.1V1060.8M49.3,959.1V1060.8M54.62,959.1V1060.8M59.94,959.1V1060.8M65.26,959.1V1060.8M70.58,959.1V1060.8M75.9,959.1V1060.8M81.22,959.1V1060.8M86.54,959.1V1060.8M91.86,959.1V1060.8M97.18,959.1V1060.8M102.5,959.1V1060.8M107.82,959.1V1060.8M113.14,959.1V1060.8M118.46,959.1V1060.8M123.78,959.1V1060.8M129.1,959.1V1060.8M134.42,959.1V1060.8M139.74,959.1V1060.8M145.06,959.1V1060.8M150.38,959.1V1060.8M155.7,959.1V1060.8M161.02,959.1V1060.8M166.34,959.1V1060.8M171.66,959.1V1060.8M176.98,959.1V1060.8M182.3,959.1V1060.8M187.62,959.1V1060.8M192.94,959.1V1060.8M198.26,959.1V1060.8M203.58,959.1V1060.8M208.9,959.1V1060.8M214.22,959.1V1060.8M21.2,960.6H216M21.2,965.92H216M21.2,971.24H216M21.2,976.56H216M21.2,981.88H216M21.2,987.2H216M21.2,992.52H216M21.2,997.84H216M21.2,1003.16H216M21.2,1008.48H216M21.2,1013.8H216M21.2,1019.12H216M21.2,1024.44H216M21.2,1029.76H216M21.2,1035.08H216M21.2,1040.4H216M21.2,1045.72H216M21.2,1051.04H216M21.2,1056.36H216" stroke="#f6c9c2" stroke-opacity="0.22" stroke-width="0.9" fill="none"/>
<path d="M26.2,1030.2 C30,1030.2 31,1019.6 37,1019.2 C41,1019 43,1019.5 45.5,1021.5 L50.8,1029.4 L63.6,1029.6 L67.2,1042.3 L69.3,1033 M79.6,1036 L81.9,1029.9 L156.5,1029.6 C161,1022 166,1007.6 171.5,1007.6 C178,1007.6 181,1024 187.8,1028.6 C190.5,1028.5 192.5,1026.2 195,1026.2 C197.5,1026.2 199,1029.3 201.5,1029.6 L216,1029.6" fill="none" stroke="#111" stroke-width="1.35" stroke-linejoin="round"/>
<path d="M41.3,985.9 L43.2,983.6 L45.5,982.6 L46,978.5 L47.5,975.1 L50.5,974.6 L53.8,974.4 L54.6,971.6 L55.9,971.3 L58,972.2 L60.1,972.1 L63,973.6 L66.8,975 L68.5,978 L69,990 L68.5,1000 L68.5,1007 L67.2,1011 L64.3,1015.2 L63.6,1020 L63,1026.1 L60.5,1025.6 L58.5,1026.8 L56.6,1025.4 L54.2,1026.6 L51.5,1025.8 L49.6,1027.6 L47.5,1026.9 L45.6,1024.6 L43.5,1022.6 L41.7,1020.2 L40.6,1016.8 L40,1013.5 L40.8,1010 L39.2,1007 L41.3,1001.8 L41,998 L42.9,992.6 L41.8,989.4 Z" fill="#c10e20"/>
<path d="M24.6,1007.4 L40.5,1008.6 L40.5,1010.6 Z M30,1013.6 L40.5,1012.4 L40.5,1014.4 Z M34,1003.2 L41,1004.6 L41,1006.2 Z M36.6,1027.4 L43.5,1021 L45.5,1023.6 Z M46.6,1042 L52.3,1026.4 L53.8,1027 Z M36.2,1019.4 L41.6,1017.6 L42.6,1019.6 Z M38.6,999.4 L42.4,1000.4 L42,1002 Z M38.8,987.6 L42.4,990.6 L42,992 Z M78.6,984.4 L81.5,985.8 L84.6,985.2 L87.6,988.2 L99.6,989.2 L91,990.4 L85.6,989.6 L89.4,993.8 L84.6,992.6 L88.6,999.6 L84,997.2 L86.6,1004.6 L83,1001.2 L84,1008.6 L81.6,1005.2 L82.6,1014.6 L80.6,1016.8 L78.6,1012 Z" fill="#c10e20"/>
<circle cx="59" cy="967.3" r="0.8" fill="#c10e20"/>
<circle cx="37" cy="977.4" r="0.9" fill="#c10e20"/>
<circle cx="32.3" cy="981.3" r="0.7" fill="#c10e20"/>
<circle cx="28.3" cy="974.6" r="0.5" fill="#c10e20"/>
<circle cx="48.3" cy="972.6" r="0.6" fill="#c10e20"/>
<circle cx="30" cy="991" r="0.6" fill="#c10e20"/>
<circle cx="34.5" cy="995.5" r="0.6" fill="#c10e20"/>
<circle cx="85.3" cy="1018.8" r="0.8" fill="#c10e20"/>
<circle cx="81.8" cy="1011" r="0.9" fill="#c10e20"/>
<circle cx="88.4" cy="982.4" r="0.5" fill="#c10e20"/>
<circle cx="58.5" cy="1035.2" r="0.5" fill="#c10e20"/>
<circle cx="79.8" cy="1024.6" r="0.5" fill="#c10e20"/>
<circle cx="44.6" cy="998.4" r="0.8" fill="#c10e20"/>
<circle cx="44.8" cy="998.2" r="0.9" fill="#f3c9cc"/>
<path d="M76,971.6 L78.6,974 L78.7,1033.7 L63.4,1033.7 L63.4,1026.9 L64.3,1015.2 L67.2,1011 L68.5,1006.9 L68,998.5 L68.5,990.1 L70.1,982.6 L74.3,975 Z" fill="#dedede"/>
<path d="M66.4,975 L64.3,982.6 L63.4,996.8 L63,1009.4 L63.9,1015.6 L64.3,1015.2 L67.2,1011 L68.5,1006.9 L68,998.5 L68.5,990.1 L70.1,982.6 L71.5,979.4 Z" fill="#a90e1b"/>
<path d="M73.6,959.6 C75.4,962 76.8,965 76.4,967.5 C76.3,969 76.2,970.6 76,971.7 C75,974.4 73.6,976.4 72.6,977.6 C71.4,978.8 70,980 69.3,980.9 L68,983.4 L66.4,979 L66.8,975 C67,973.4 67.4,972.2 68,970.9 C69,968.4 70,966.2 71,964.2 C71.8,962.6 72.6,961 73.6,959.6 Z" fill="#b30f1d"/>
<circle cx="72.5" cy="980.2" r="0.9" fill="#c10e20"/>
<circle cx="71" cy="982.4" r="0.6" fill="#c10e20"/>
<circle cx="70.3" cy="986.4" r="0.45" fill="#c10e20"/>
<circle cx="68.8" cy="995.2" r="0.45" fill="#c10e20"/>
<path d="M69.8,1033.6 L79.7,1033.6 C79,1040 79.2,1050 80,1060.8 L70.8,1060.8 C71.4,1052 71.2,1042 69.8,1033.6 Z" fill="#4b4b4b"/>
<g font-family="Liberation Sans, sans-serif" font-weight="bold" fill="#0a0a0a">
<text x="87.2" y="1005.4" font-size="17.6" textLength="35.3" lengthAdjust="spacingAndGlyphs">ECG</text>
<text x="87.4" y="1024.6" font-size="17.6" textLength="71.6" lengthAdjust="spacingAndGlyphs">LIBRARY</text>
<text x="87.4" y="1048" font-size="16.8" textLength="114.2" lengthAdjust="spacingAndGlyphs">Killer Rhythms</text>
</g>
<path transform="translate(844.1,992.04) scale(2.56)" d="M23.953 4.57a10 10 0 01-2.825.775 4.958 4.958 0 002.163-2.723c-.951.555-2.005.959-3.127 1.184a4.92 4.92 0 00-8.384 4.482C7.69 8.095 4.067 6.13 1.64 3.162a4.822 4.822 0 00-.666 2.475c0 1.71.87 3.213 2.188 4.096a4.904 4.904 0 01-2.228-.616v.06a4.923 4.923 0 003.946 4.827 4.996 4.996 0 01-2.212.085 4.936 4.936 0 004.604 3.417 9.867 9.867 0 01-6.102 2.105c-.39 0-.779-.023-1.17-.067a13.995 13.995 0 007.557 2.209c9.053 0 13.998-7.496 13.998-13.985 0-.21 0-.42-.015-.63A9.935 9.935 0 0024 4.59z" fill="#5aa7dd"/>
<defs><linearGradient id="lb1" x1="1" y1="0" x2="0" y2="1"><stop offset="0" stop-color="#78bbe6"/><stop offset="1" stop-color="#3f86c2"/></linearGradient><linearGradient id="lb2" x1="0" y1="1" x2="1" y2="0"><stop offset="0" stop-color="#2a6894"/><stop offset="1" stop-color="#4d90c9"/></linearGradient><linearGradient id="lb3" x1="0" y1="1" x2="1" y2="0"><stop offset="0" stop-color="#3f74b0"/><stop offset="1" stop-color="#566fb4"/></linearGradient></defs>
<g>
<path d="M1662.82,1005.11 L1663.77,1002.04 L1665.33,1000.37 L1667.28,999.81 L1681.78,999.81 L1683.45,1000.81 L1683.73,1002.6 L1681.22,1012.64 L1691.65,1012.97 L1677.04,1018.55 L1660.31,1025.8 L1650.55,1031.32 L1647.76,1031.71 L1645.81,1030.48 L1645.36,1028.25 L1646.92,1026.58 L1654.73,1023.23 L1647.2,1020.17 L1647.59,1017.38 L1649.15,1014.87 L1652.5,1013.03 L1661.87,1012.19 Z" fill="#ab3236" stroke="#ab3236" stroke-width="0.5" stroke-linejoin="round"/>
<path d="M1678.27,1014.03 L1671.46,1014.98 L1660.31,1016.93 L1646.92,1020.33 L1645.14,1027.97 L1654.73,1023.23 L1667,1018.21 Z" fill="#fff"/>
<path d="M1692.8,1015.3 L1691.4,1022 L1689.9,1027.9 L1688.2,1030.4 L1686,1031.6 L1677,1031.8 L1675.6,1029.3 L1671,1028 L1677.6,1023 Z" fill="url(#lb1)"/>
<path d="M1692.6,1015.5 L1677.6,1023 L1668.4,1028.5 L1655.4,1036.6 L1654.8,1041.8 L1662.3,1036.5 L1668.4,1032.2 L1674.5,1028.8 L1680,1027 Z" fill="url(#lb2)"/>
<path d="M1658.8,1044.3 L1659.4,1043 L1664.7,1038.3 L1669.9,1034 L1675.5,1029.6 L1676.9,1031.7 L1675.5,1036.5 L1674.2,1041.1 L1673.2,1043.2 L1671.4,1044.4 Z" fill="url(#lb3)"/>
</g>
<g font-family="Liberation Sans, sans-serif" fill="#0c0c0c" font-style="italic">
<text x="1696" y="1013.1" font-size="19.8" textLength="114.4" lengthAdjust="spacingAndGlyphs">LIFE IN THE</text>
<text x="1689.6" y="1041.8" font-size="35.6" font-weight="bold" textLength="192" lengthAdjust="spacingAndGlyphs" stroke="#0c0c0c" stroke-width="0.7">FASTLANE</text>
</g>
</svg>
<div class="ft" style="left:897px;width:200px;top:993.33px;font-size:22px;-webkit-text-stroke:0.3px #fff"><span style="letter-spacing:-0.25px">@rob_buttner</span><br><span style="letter-spacing:-0.72px">@LITFLblog</span></div>
</body></html>
